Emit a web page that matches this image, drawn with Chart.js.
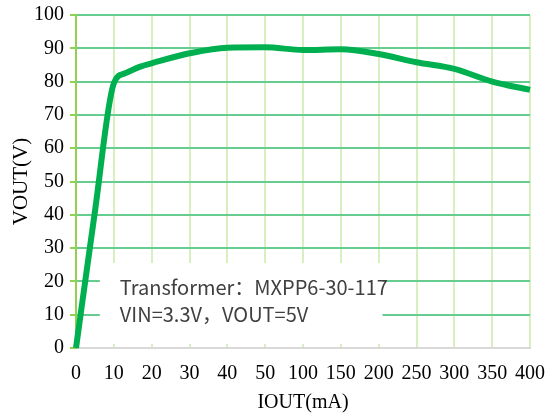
<!DOCTYPE html>
<html>
<head>
<meta charset="utf-8">
<script src="https://cdn.jsdelivr.net/npm/chart.js@4.4.0/dist/chart.umd.min.js"></script>
<style>
  html, body { margin: 0; padding: 0; background: #fff; }
  #wrap { width: 554px; height: 418px; }
</style>
</head>
<body>
<div id="wrap"><canvas id="chart" width="554" height="418"></canvas></div>
<script>
// tick labels on the (non-uniform) current axis
const xLabels = ['0', '10', '20', '30', '40', '50', '100', '150', '200', '250', '300', '350', '400'];
const yTicks = [0, 10, 20, 30, 40, 50, 60, 70, 80, 90, 100];

// curve
const ioutMa = [0, 5, 10, 13, 17, 20, 30, 40, 50, 100, 150, 200, 250, 300, 350, 400];
const vout = [0, 41, 79.5, 82.5, 84.5, 85.5, 88.5, 90.2, 90.3, 89.5, 89.7, 88.3, 85.8, 83.8, 80, 77.5];

const noteLines = ['Transformer\uFF1AMXPP6-30-117', 'VIN=3.3V\uFF0CVOUT=5V'];

// each labelled tick is one step on the axis; map mA onto that
const tickVals = xLabels.map(Number);
function axisPos(mA) {
  for (let i = 0; i < tickVals.length - 1; i++) {
    if (mA <= tickVals[i + 1]) {
      return i + (mA - tickVals[i]) / (tickVals[i + 1] - tickVals[i]);
    }
  }
  return tickVals.length - 1;
}

const points = ioutMa.map((v, i) => ({ x: axisPos(v), y: vout[i] }));

// white box with the test conditions, sitting over the grid
const noteBox = {
  id: 'noteBox',
  beforeDatasetsDraw(chart) {
    const ctx = chart.ctx;
    const x = chart.scales.x, y = chart.scales.y;
    const left = x.getPixelForValue(0.63);
    const right = x.getPixelForValue(8.1);
    const top = y.getPixelForValue(25.5);
    const bottom = y.getPixelForValue(1.2);
    ctx.save();
    ctx.fillStyle = '#ffffff';
    ctx.fillRect(left, top, right - left, bottom - top);
    ctx.fillStyle = '#404040';
    ctx.font = '20px "Noto Sans CJK SC", "Noto Sans", sans-serif';
    ctx.textBaseline = 'middle';
    ctx.textAlign = 'left';
    ctx.fillText(noteLines[0], left + 20, top + 24);
    ctx.fillText(noteLines[1], left + 20, top + 51);
    ctx.restore();
  }
};

const serif = '"Liberation Serif", "Times New Roman", serif';

new Chart(document.getElementById('chart'), {
  type: 'line',
  data: {
    datasets: [{
      data: points,
      borderColor: '#00b050',
      borderWidth: 6,
      pointRadius: 0,
      cubicInterpolationMode: 'monotone',
      fill: false,
      clip: 8
    }]
  },
  options: {
    responsive: false,
    animation: false,
    layout: { padding: { left: 0, right: 24, top: 15, bottom: 0 } },
    plugins: { legend: { display: false }, tooltip: { enabled: false } },
    scales: {
      x: {
        type: 'linear',
        min: 0,
        max: xLabels.length - 1,
        afterFit(scale) {
          scale.height = 70;
          scale.paddingLeft = 0;
          scale.paddingRight = 0;
        },
        afterBuildTicks(scale) {
          scale.ticks = xLabels.map((_, i) => ({ value: i }));
        },
        ticks: {
          autoSkip: false,
          maxRotation: 0,
          padding: 14,
          color: '#000',
          font: { family: serif, size: 20 },
          callback: (v) => xLabels[v]
        },
        grid: {
          color: (c) => c.index === 0 ? 'rgba(0,0,0,0)' : '#d8f0c0',
          lineWidth: 2,
          drawTicks: false
        },
        border: { color: '#d9d9d9', width: 2 },
        title: {
          display: true,
          text: 'IOUT(mA)',
          color: '#000',
          font: { family: serif, size: 20 },
          padding: { top: 0, bottom: 3 }
        }
      },
      y: {
        min: 0,
        max: 100,
        afterFit(scale) {
          scale.width = 76;
          scale.paddingTop = 0;
          scale.paddingBottom = 0;
        },
        afterBuildTicks(scale) {
          scale.ticks = yTicks.map((v) => ({ value: v }));
        },
        ticks: {
          padding: 6,
          color: '#000',
          font: { family: serif, size: 20 }
        },
        grid: {
          color: (c) => c.tick && c.tick.value === 0 ? 'rgba(0,0,0,0)' : '#66cc8f',
          lineWidth: 2,
          tickLength: 6,
          tickColor: '#92d050'
        },
        border: { color: '#92d050', width: 2 },
        title: {
          display: true,
          text: 'VOUT(V)',
          color: '#000',
          font: { family: serif, size: 21 },
          padding: { top: 9, bottom: 0 }
        }
      }
    }
  },
  plugins: [noteBox]
});
</script>
</body>
</html>
